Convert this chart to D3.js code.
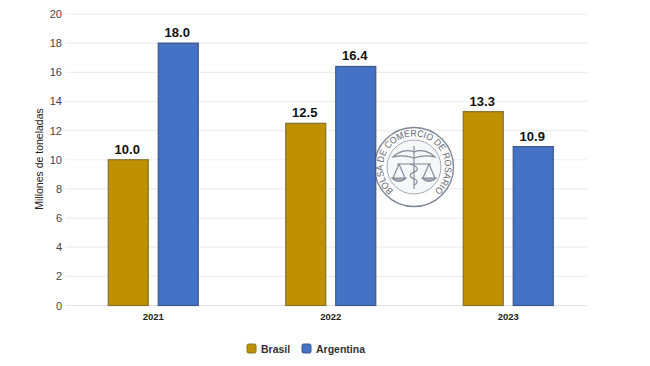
<!DOCTYPE html>
<html>
<head>
<meta charset="utf-8">
<script src="https://cdn.jsdelivr.net/npm/d3@7"></script>
<style>
  html, body { margin: 0; padding: 0; background: #fff; }
  svg { display: block; }
  text { font-family: "Liberation Sans", Arial, sans-serif; }
</style>
</head>
<body>
<svg id="chartsvg" width="650" height="366"></svg>
<script>
const years = ["2021", "2022", "2023"];
const seriesNames = ["Brasil", "Argentina"];
const brasil = [10.0, 12.5, 13.3];
const argentina = [18.0, 16.4, 10.9];
const yTicks = [0, 2, 4, 6, 8, 10, 12, 14, 16, 18, 20];
const yTitle = "Millones de toneladas";
const sealText = "BOLSA DE COMERCIO DE ROSARIO";

const colors = d3.scaleOrdinal().domain(seriesNames).range(["#bf9000", "#4472c4"]);
const strokes = d3.scaleOrdinal().domain(seriesNames).range(["#85722f", "#3b5688"]);

const svg = d3.select("#chartsvg");

const x = d3.scaleBand().domain(years).range([64.5, 597]);
const xInner = d3.scaleBand().domain(seriesNames).range([-45, 45]).paddingInner(0.2);
const y = d3.scaleLinear().domain([0, 20]).range([305.5, 14]);

// gridlines
svg.append("g").selectAll("line")
    .data(yTicks)
    .enter()
    .append("line")
    .attr("x1", 66)
    .attr("x2", 587)
    .attr("y1", d => y(d))
    .attr("y2", d => y(d))
    .attr("stroke", d => d === 0 ? "#e2e2e2" : "#eeeeee")
    .attr("stroke-width", 1.2);

// seal in the middle of the plot
function drawSeal() {
    const seal = svg.append("g").attr("transform", "translate(414,167)");
    const ink = "#7f8794";
    seal.append("circle").attr("r", 39.5).attr("fill", "#fff").attr("fill-opacity", 0.85).attr("stroke", ink).attr("stroke-width", 1.4);
    seal.append("circle").attr("r", 27).attr("fill", "#f4f5f7").attr("fill-opacity", 0.8).attr("stroke", ink).attr("stroke-width", 0.7);
    seal.append("path").attr("id", "sealArc")
        .attr("d", "M -20,24 A 31,31 0 1 1 20,24")
        .attr("fill", "none");
    seal.append("text")
        .attr("font-size", 9.5)
        .attr("fill", "#5f6672")
        .append("textPath")
        .attr("href", "#sealArc")
        .attr("startOffset", "50%")
        .attr("text-anchor", "middle")
        .attr("textLength", 150)
        .attr("lengthAdjust", "spacingAndGlyphs")
        .text(sealText);
    // caduceus and scales
    const mark = seal.append("g").attr("fill", "none").attr("stroke", ink).attr("stroke-width", 1.1);
    mark.append("path").attr("d", "M0,-21 V22");
    mark.append("path").attr("d", "M0,-15 C-7,-18 -15,-16 -21,-10 C-13,-12 -6,-11 0,-9 C6,-11 13,-12 21,-10 C15,-16 7,-18 0,-15");
    mark.append("path").attr("d", "M-17,-3 H17");
    mark.append("path").attr("d", "M-15,-3 L-21,11 M-15,-3 L-9,11 M15,-3 L9,11 M15,-3 L21,11");
    mark.append("path").attr("d", "M-22,11 H-8 Q-15,18 -22,11 Z M8,11 H22 Q15,18 8,11 Z").attr("fill", "#a9afb9");
    mark.append("path").attr("d", "M-4,-3 C5,0 5,3 0,5 C-5,7 -5,10 0,12 C4,13 4,16 0,18");
}
drawSeal();

// y axis
const yAxis = svg.append("g")
    .attr("transform", "translate(66,0)")
    .call(d3.axisLeft(y).tickValues(yTicks).tickSize(0).tickPadding(4));
yAxis.select(".domain").remove();
yAxis.selectAll("text").attr("font-size", 11).attr("fill", "#444");

// x axis
const xAxis = svg.append("g")
    .attr("transform", "translate(0,305)")
    .call(d3.axisBottom(x).tickSize(0).tickPadding(8));
xAxis.select(".domain").remove();
xAxis.selectAll("text")
    .attr("font-size", 9.5)
    .attr("font-weight", "bold")
    .attr("fill", "#222");

// y axis title
svg.append("text")
    .attr("transform", "rotate(-90)")
    .attr("x", -159)
    .attr("y", 43)
    .attr("text-anchor", "middle")
    .attr("font-size", 10.5)
    .attr("fill", "#222")
    .text(yTitle);

// bars
const rows = years.map((year, i) => ({ year: year, Brasil: brasil[i], Argentina: argentina[i] }));
const marks = rows.flatMap(r => seriesNames.map(s => ({ year: r.year, name: s, value: r[s] })));

svg.append("g").selectAll("rect")
    .data(marks)
    .enter()
    .append("rect")
    .attr("x", d => x(d.year) + x.bandwidth() / 2 + xInner(d.name))
    .attr("y", d => y(d.value))
    .attr("width", xInner.bandwidth())
    .attr("height", d => y(0) - y(d.value))
    .attr("fill", d => colors(d.name))
    .attr("stroke", d => strokes(d.name))
    .attr("stroke-width", 1.2);

// value labels, white behind them hides the gridlines
svg.append("g").selectAll("text")
    .data(marks)
    .enter()
    .append("text")
    .attr("x", d => x(d.year) + x.bandwidth() / 2 + xInner(d.name) + xInner.bandwidth() / 2 - 1)
    .attr("y", d => y(d.value) - 6)
    .attr("text-anchor", "middle")
    .attr("font-size", 13)
    .attr("font-weight", "bold")
    .attr("fill", "#111")
    .attr("stroke", "#fff")
    .attr("stroke-width", 3)
    .attr("paint-order", "stroke")
    .text(d => d.value.toFixed(1));

// legend
const legendX = d3.scaleOrdinal().domain(seriesNames).range([247, 302]);
const legend = svg.append("g").selectAll("g")
    .data(seriesNames)
    .enter()
    .append("g")
    .attr("transform", d => `translate(${legendX(d)},344)`);
legend.append("rect")
    .attr("width", 9)
    .attr("height", 9)
    .attr("rx", 1.5)
    .attr("fill", d => colors(d))
    .attr("stroke", d => strokes(d));
legend.append("text")
    .attr("x", 14)
    .attr("y", 8.5)
    .attr("font-size", 10.5)
    .attr("font-weight", "bold")
    .attr("fill", "#333")
    .text(d => d);
</script>
</body>
</html>
